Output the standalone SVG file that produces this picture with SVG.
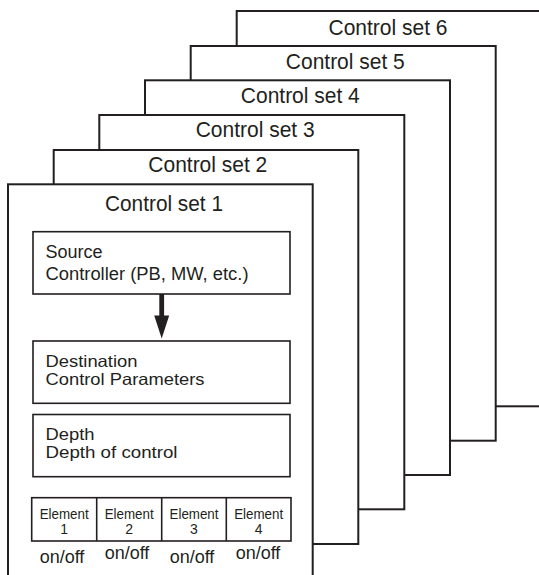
<svg xmlns="http://www.w3.org/2000/svg" width="539" height="575" viewBox="0 0 539 575">
<defs>
<style>
.frame{fill:#fff;stroke:#231f20;stroke-width:2}
.box{fill:#fff;stroke:#231f20;stroke-width:1.6}
.t{font-family:"Liberation Sans",Arial,Helvetica,sans-serif;fill:#231f20}
.title{font-size:22px;text-anchor:middle}
.body{font-size:18px}
.tight{font-size:16.5px}
.el{font-size:14px;text-anchor:middle}
.oo{font-size:18px;text-anchor:middle}
</style>
</defs>
<rect width="539" height="575" fill="#fff"/>
<g id="set6"><rect class="frame" x="236.7" y="11" width="305" height="395.3"/><text class="t title" x="388" y="35" textLength="119" lengthAdjust="spacingAndGlyphs">Control set 6</text></g>
<g id="set5"><rect class="frame" x="190.7" y="46" width="305" height="394.7"/><text class="t title" x="345.3" y="69" textLength="119" lengthAdjust="spacingAndGlyphs">Control set 5</text></g>
<g id="set4"><rect class="frame" x="145" y="80.3" width="305" height="394.7"/><text class="t title" x="300.3" y="102.5" textLength="119" lengthAdjust="spacingAndGlyphs">Control set 4</text></g>
<g id="set3"><rect class="frame" x="99.3" y="115" width="305" height="394.3"/><text class="t title" x="255.2" y="137.3" textLength="119" lengthAdjust="spacingAndGlyphs">Control set 3</text></g>
<g id="set2"><rect class="frame" x="53.7" y="150" width="304.6" height="394"/><text class="t title" x="207.8" y="172.3" textLength="119" lengthAdjust="spacingAndGlyphs">Control set 2</text></g>
<g id="set1"><rect class="frame" x="8" y="184.3" width="304.7" height="400"/><text class="t title" x="164" y="210.5" textLength="118" lengthAdjust="spacingAndGlyphs">Control set 1</text></g>
<g id="source"><rect class="box" x="33" y="231.7" width="257" height="62.3"/><text class="t body" x="45.5" y="258">Source</text><text class="t body" x="45.5" y="279.5" textLength="203" lengthAdjust="spacingAndGlyphs">Controller (PB, MW, etc.)</text></g>
<g id="destination"><rect class="box" x="33" y="341" width="257" height="62.3"/><text class="t tight" x="45.5" y="367.2" textLength="92" lengthAdjust="spacingAndGlyphs">Destination</text><text class="t tight" x="45.5" y="385.3" textLength="159" lengthAdjust="spacingAndGlyphs">Control Parameters</text></g>
<g id="depth"><rect class="box" x="33" y="414.5" width="257" height="62.2"/><text class="t tight" x="45.5" y="440.2" textLength="49" lengthAdjust="spacingAndGlyphs">Depth</text><text class="t tight" x="45.5" y="458.3" textLength="132" lengthAdjust="spacingAndGlyphs">Depth of control</text></g>
<g id="elements">
<rect class="box" x="31.7" y="497.7" width="259.3" height="43.3"/>
<line x1="96.7" y1="497.7" x2="96.7" y2="541" stroke="#231f20" stroke-width="1.6"/>
<line x1="161.7" y1="497.7" x2="161.7" y2="541" stroke="#231f20" stroke-width="1.6"/>
<line x1="226.3" y1="497.7" x2="226.3" y2="541" stroke="#231f20" stroke-width="1.6"/>
<g id="element1"><text class="t el" x="64.2" y="519" textLength="49" lengthAdjust="spacingAndGlyphs">Element</text><text class="t el" x="64.2" y="534">1</text><text class="t oo" x="62" y="563">on/off</text></g>
<g id="element2"><text class="t el" x="129.2" y="519" textLength="49" lengthAdjust="spacingAndGlyphs">Element</text><text class="t el" x="129.2" y="534">2</text><text class="t oo" x="127" y="558.5">on/off</text></g>
<g id="element3"><text class="t el" x="194" y="519" textLength="49" lengthAdjust="spacingAndGlyphs">Element</text><text class="t el" x="194" y="534">3</text><text class="t oo" x="192" y="563">on/off</text></g>
<g id="element4"><text class="t el" x="258.7" y="519" textLength="49" lengthAdjust="spacingAndGlyphs">Element</text><text class="t el" x="258.7" y="534">4</text><text class="t oo" x="258" y="558.5">on/off</text></g>
</g>
<g id="connectors">
<line x1="161.7" y1="294" x2="161.7" y2="316" stroke="#231f20" stroke-width="4.8"/>
<polygon points="154.2,315.5 169.2,315.5 161.7,338.5" fill="#231f20"/>
</g>
</svg>
